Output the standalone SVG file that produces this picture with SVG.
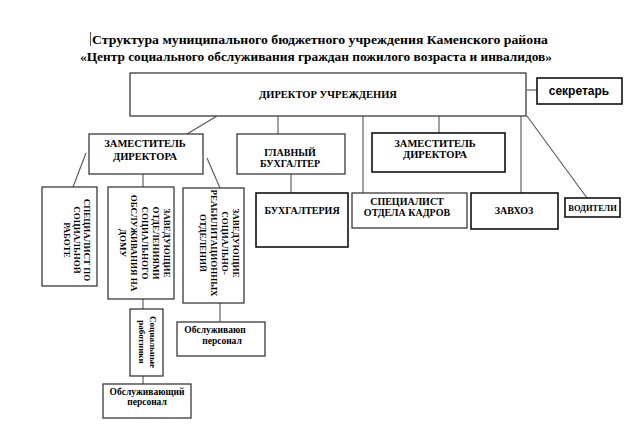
<svg xmlns="http://www.w3.org/2000/svg" width="628" height="443" viewBox="0 0 628 443">
<style>
.bx{fill:#fff;stroke:#3a3a3a;stroke-width:1.3}
.bk{fill:#fff;stroke:#111;stroke-width:1.6}
.t{font-family:"Liberation Serif","Times New Roman",serif;font-weight:bold;fill:#000;text-anchor:middle}
.s{font-size:10.5px}
.r{font-size:9px}
.ln{stroke:#555;stroke-width:1.1;fill:none}
</style>
<rect width="628" height="443" fill="#fff"/>
<g id="title">
<line x1="90.5" y1="32" x2="90.5" y2="46" stroke="#555" stroke-width="1"/>
<text class="t" x="320" y="44" font-size="13.5" textLength="456" lengthAdjust="spacingAndGlyphs">Структура муниципального бюджетного учреждения Каменского района</text>
<text class="t" x="316" y="61" font-size="13.5" textLength="472" lengthAdjust="spacingAndGlyphs">«Центр социального обслуживания граждан пожилого возраста и инвалидов»</text>
</g>
<g id="connectors">
<line class="ln" x1="527" y1="90" x2="537" y2="90"/>
<line class="ln" x1="217" y1="116" x2="187" y2="134"/>
<line class="ln" x1="278" y1="116" x2="278" y2="134"/>
<line class="ln" x1="363" y1="116" x2="363" y2="196"/>
<line class="ln" x1="439" y1="116" x2="439" y2="133"/>
<line class="ln" x1="521" y1="116" x2="521" y2="193"/>
<line class="ln" x1="527" y1="116" x2="587" y2="198"/>
<line class="ln" x1="291" y1="174" x2="291" y2="193"/>
<line class="ln" x1="86" y1="153" x2="73" y2="187"/>
<line class="ln" x1="143" y1="174" x2="143" y2="187"/>
<line class="ln" x1="207" y1="158" x2="220" y2="188"/>
<line class="ln" x1="143" y1="299" x2="143" y2="309"/>
<line class="ln" x1="143" y1="376" x2="143" y2="384"/>
<line class="ln" x1="220" y1="303" x2="220" y2="322"/>
</g>
<g id="director">
<rect class="bx" x="130" y="73" width="396" height="43"/>
<text class="t s" x="328" y="98">ДИРЕКТОР УЧРЕЖДЕНИЯ</text>
</g>
<g id="secretary">
<rect class="bk" x="537" y="78" width="85" height="26"/>
<text x="579" y="95" font-family="Liberation Sans, Arial, sans-serif" font-weight="bold" font-size="12" text-anchor="middle">секретарь</text>
</g>
<g id="deputy1">
<rect class="bx" x="89" y="134" width="114" height="40"/>
<text class="t s" x="145" y="147">ЗАМЕСТИТЕЛЬ</text>
<text class="t s" x="145" y="160">ДИРЕКТОРА</text>
</g>
<g id="chief-accountant">
<rect class="bx" x="237" y="134" width="108" height="40"/>
<text class="t" font-size="10" x="290" y="156">ГЛАВНЫЙ</text>
<text class="t" font-size="10" x="290" y="167">БУХГАЛТЕР</text>
</g>
<g id="deputy2">
<rect class="bk" x="372" y="133" width="133" height="39"/>
<text class="t s" x="435" y="147">ЗАМЕСТИТЕЛЬ</text>
<text class="t s" x="435" y="158">ДИРЕКТОРА</text>
</g>
<g id="social-worker-spec">
<rect class="bx" x="42" y="187" width="55" height="99"/>
<g transform="translate(70,240) rotate(90)">
<text class="t r" x="0" y="-14">СПЕЦИАЛИСТ ПО</text>
<text class="t r" x="0" y="-4">СОЦИАЛЬНОЙ</text>
<text class="t r" x="0" y="6">РАБОТЕ</text>
</g>
</g>
<g id="home-service-heads">
<rect class="bx" x="108" y="187" width="66" height="112"/>
<g transform="translate(142,243) rotate(90)">
<text class="t r" x="0" y="-22">ЗАВЕДУЮЩИЕ</text>
<text class="t r" x="0" y="-11">ОТДЕЛЕНИЯМИ</text>
<text class="t r" x="0" y="0">СОЦИАЛЬНОГО</text>
<text class="t r" x="0" y="11">ОБСЛУЖИВАНИЯ НА</text>
<text class="t r" x="0" y="22">ДОМУ</text>
</g>
</g>
<g id="rehab-heads">
<rect class="bx" x="183" y="188" width="61" height="115"/>
<g transform="translate(216,243) rotate(90)">
<text class="t r" x="0" y="-17">ЗАВЕДУЮЩИЕ</text>
<text class="t r" x="0" y="-6">СОЦИАЛЬНО-</text>
<text class="t r" x="0" y="5">РЕАБИЛИТАЦИОННЫХ</text>
<text class="t r" x="0" y="16">ОТДЕЛЕНИЙ</text>
</g>
</g>
<g id="accounting">
<rect class="bk" x="256" y="193" width="92" height="54"/>
<text class="t" font-size="10" x="302" y="214">БУХГАЛТЕРИЯ</text>
</g>
<g id="hr-spec">
<rect class="bx" x="352" y="193" width="115" height="35"/>
<text class="t" font-size="10" x="407" y="205">СПЕЦИАЛИСТ</text>
<text class="t" font-size="10" x="407" y="216">ОТДЕЛА КАДРОВ</text>
</g>
<g id="supply">
<rect class="bk" x="471" y="193" width="87" height="36"/>
<text class="t" font-size="10" x="514" y="214">ЗАВХОЗ</text>
</g>
<g id="drivers">
<rect class="bk" x="565" y="198" width="55" height="19"/>
<text class="t" font-size="8.5" x="592.5" y="211">ВОДИТЕЛИ</text>
</g>
<g id="social-workers">
<rect class="bx" x="130" y="309" width="33" height="67"/>
<g transform="translate(146,342) rotate(90)">
<text class="t" font-size="9" x="0" y="-4">Социальные</text>
<text class="t" font-size="9" x="0" y="7">работники</text>
</g>
</g>
<g id="service-staff1">
<rect class="bx" x="103" y="384" width="88" height="34"/>
<text class="t" font-size="9.5" x="147" y="395">Обслуживающий</text>
<text class="t" font-size="9.5" x="147" y="405">персонал</text>
</g>
<g id="service-staff2">
<rect class="bx" x="177" y="322" width="88" height="34"/>
<text class="t" font-size="9.5" x="215" y="333">Обслуживаюп</text>
<text class="t" font-size="9.5" x="222" y="344">персонал</text>
</g>
</svg>
